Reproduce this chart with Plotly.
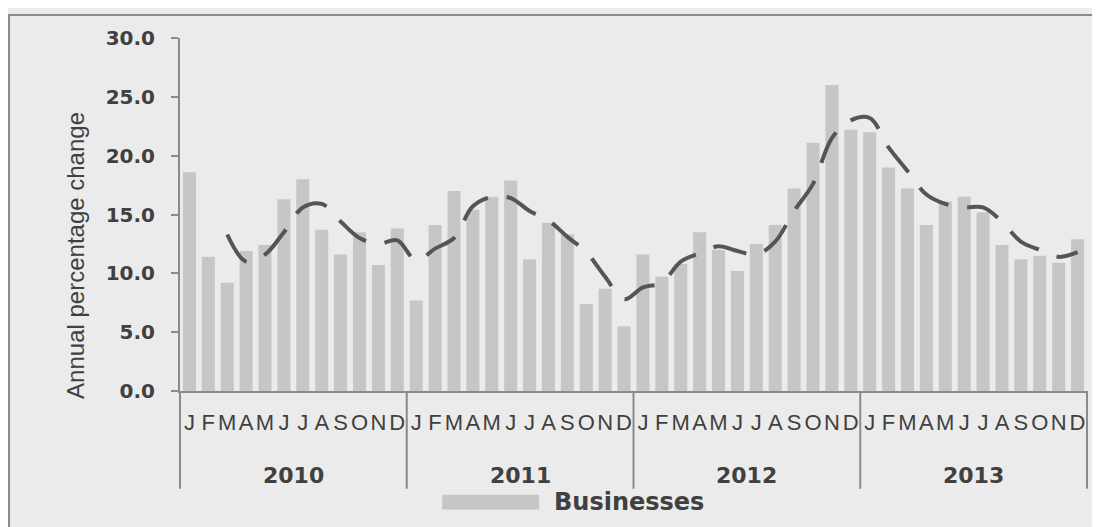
import plotly.graph_objects as go

years = ["2010", "2011", "2012", "2013"]
months = ["Jan", "Feb", "Mar", "Apr", "May", "Jun", "Jul", "Aug", "Sep", "Oct", "Nov", "Dec"]
month_letters = ["J", "F", "M", "A", "M", "J", "J", "A", "S", "O", "N", "D"]

businesses = [
    18.6, 11.4, 9.2, 11.9, 12.4, 16.3, 18.0, 13.7, 11.6, 13.5, 10.7, 13.8,
    7.7, 14.1, 17.0, 15.4, 16.5, 17.9, 11.2, 14.3, 13.3, 7.4, 8.7, 5.5,
    11.6, 9.7, 10.8, 13.5, 12.0, 10.2, 12.5, 14.1, 17.2, 21.1, 26.0, 22.2,
    22.0, 19.0, 17.2, 14.1, 16.1, 16.5, 15.2, 12.4, 11.2, 11.5, 10.9, 12.9,
]

# trend line (starts at Mar 2010)
trend = [
    13.3, 11.0, 11.6, 13.5, 15.6, 15.9, 14.4, 13.0, 12.5, 12.8,
    11.1, 12.1, 13.0, 15.7, 16.5, 16.4, 15.3, 14.5, 13.1, 11.8, 9.7, 7.8,
    8.8, 9.2, 11.0, 11.7, 12.3, 11.9, 11.6, 12.7, 15.3, 17.6, 21.5, 23.0,
    23.2, 20.7, 18.7, 16.7, 15.9, 15.6, 15.6, 14.4, 12.7, 12.0, 11.4, 11.8,
]

y_ticks = [0, 5, 10, 15, 20, 25, 30]

categories = [f"{m} {y}" for y in years for m in months]
tick_text = month_letters * len(years)

TEXT = "#404040"
AXIS = "#8a8a8a"
BG = "#ebebeb"

fig = go.Figure()
fig.add_trace(go.Bar(
    x=categories, y=businesses, name="Businesses",
    marker=dict(color="#c6c6c6", line=dict(width=0)),
    showlegend=False, hoverinfo="x+y",
))
fig.add_trace(go.Scatter(
    x=categories[len(categories) - len(trend):], y=trend, mode="lines",
    line=dict(color="#555555", width=4, dash="34px,19px", shape="spline"),
    showlegend=False,
))

n = len(categories)
shapes = []
# year dividers
for i in range(len(years) + 1):
    shapes.append(dict(type="line", xref="paper", yref="paper",
                       x0=i / len(years), x1=i / len(years), y0=0, y1=-0.277,
                       line=dict(color=AXIS, width=2)))
# outer frame (left & top visible)
shapes.append(dict(type="rect", xref="paper", yref="paper",
                   x0=-0.1885, x1=1.2, y0=-0.6, y1=1.065,
                   line=dict(color=AXIS, width=2), fillcolor="rgba(0,0,0,0)"))
# legend swatch
shapes.append(dict(type="rect", xref="paper", yref="paper",
                   x0=0.289, x1=0.396, y0=-0.336, y1=-0.294,
                   line=dict(width=0), fillcolor="#c6c6c6"))

annotations = []
for i, yr in enumerate(years):
    annotations.append(dict(text=f"<b>{yr}</b>", xref="paper", yref="paper",
                            x=(i + 0.5) / len(years), y=-0.24, showarrow=False,
                            xanchor="center", yanchor="middle",
                            font=dict(family="DejaVu Sans", size=22, color=TEXT)))
annotations.append(dict(text="<b>Businesses</b>", xref="paper", yref="paper",
                        x=0.41, y=-0.315, showarrow=False,
                        xanchor="left", yanchor="middle",
                        font=dict(family="DejaVu Sans", size=24, color=TEXT)))
# y-axis title
annotations.append(dict(text="Annual percentage change", xref="paper", yref="paper",
                        x=-0.116, y=0.385, showarrow=False, textangle=-90,
                        xanchor="center", yanchor="middle",
                        font=dict(family="Liberation Sans", size=24, color=TEXT)))

fig.update_layout(
    width=1092, height=519,
    margin=dict(l=172, r=13, t=30, b=136),
    paper_bgcolor=BG, plot_bgcolor=BG,
    bargap=0.31,
    shapes=shapes, annotations=annotations,
    xaxis=dict(
        type="category", range=[-0.5, n - 0.5],
        tickmode="array", tickvals=categories, ticktext=tick_text,
        tickangle=0, showgrid=False, zeroline=False,
        showline=True, linecolor=AXIS, linewidth=2, ticks="",
        ticklabelstandoff=11,
        tickfont=dict(family="Liberation Sans", size=22, color=TEXT),
    ),
    yaxis=dict(
        range=[0, 30], tickvals=y_ticks,
        ticktext=[f"<b>{v:.1f}</b>" for v in y_ticks],
        showgrid=False, zeroline=False,
        showline=True, linecolor=AXIS, linewidth=2,
        ticks="outside", ticklen=7, tickwidth=2, tickcolor=AXIS,
        ticklabelstandoff=12,
        tickfont=dict(family="DejaVu Sans", size=20, color=TEXT),
    ),
)

fig.write_html("out.html")
